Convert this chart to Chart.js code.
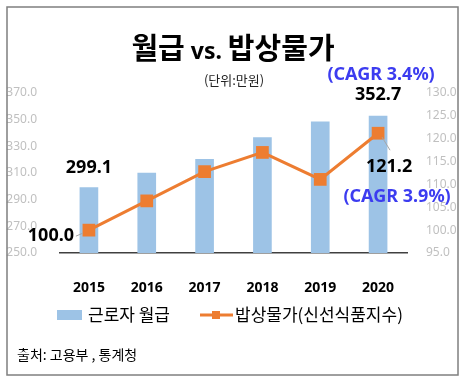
<!DOCTYPE html>
<html>
<head>
<meta charset="utf-8">
<script src="https://cdn.jsdelivr.net/npm/chart.js@4"></script>
<style>
html, body { margin: 0; padding: 0; background: #fff; }
#wrap { width: 465px; height: 381px; }
</style>
</head>
<body>
<div id="wrap"><canvas id="chart" width="465" height="381"></canvas></div>
<script>
const years = ['2015', '2016', '2017', '2018', '2019', '2020'];
const wages = [299.1, 310.0, 320.3, 336.5, 348.3, 352.7];        // 근로자 월급 (만원)
const foodIndex = [100.0, 106.4, 112.8, 117.0, 111.1, 121.2];    // 밥상물가 (신선식품지수)
const wageCagr = '(CAGR 3.4%)';
const foodCagr = '(CAGR 3.9%)';

const KR = '"Noto Sans CJK KR", "Noto Sans", sans-serif';
const NUM = '"Noto Sans", "Noto Sans CJK KR", sans-serif';
const BLUE_BAR = '#9dc3e6';
const ORANGE = '#ed7d31';
const CAGR_BLUE = '#3c3cf0';

// draws titles, value labels, legend and source on top of the chart
const decorPlugin = {
    id: 'decor',
    afterDraw: (chart) => {
        const ctx = chart.ctx;
        const bars = chart.getDatasetMeta(1).data;
        const pts = chart.getDatasetMeta(0).data;
        ctx.save();

        // frame
        ctx.strokeStyle = '#7f7f7f';
        ctx.lineWidth = 1.5;
        ctx.strokeRect(7, 7, 451, 368);

        // title, built from three pieces
        const parts = [
            { t: '월급', f: `bold 29px ${KR}` },
            { t: ' vs. ', f: `bold 23px ${NUM}` },
            { t: '밥상물가', f: `bold 29px ${KR}` }
        ];
        let total = 0;
        parts.forEach(p => { ctx.font = p.f; p.w = ctx.measureText(p.t).width; total += p.w; });
        let x = 233 - total / 2;
        ctx.fillStyle = '#000';
        ctx.textBaseline = 'alphabetic';
        ctx.textAlign = 'left';
        parts.forEach(p => { ctx.font = p.f; ctx.fillText(p.t, x, 59); x += p.w; });

        ctx.textAlign = 'center';
        ctx.textBaseline = 'middle';
        ctx.font = `13px ${KR}`;
        ctx.fillStyle = '#222';
        ctx.fillText('(단위:만원)', 234, 80);

        // value labels
        ctx.fillStyle = '#000';
        ctx.font = `bold 18px ${NUM}`;
        ctx.fillText(wages[0].toFixed(1), bars[0].x, bars[0].y - 20);
        ctx.fillText(wages[5].toFixed(1), bars[5].x, bars[5].y - 21);
        ctx.fillText(foodIndex[0].toFixed(1), pts[0].x - 38, pts[0].y + 6);
        ctx.fillText(foodIndex[5].toFixed(1), pts[5].x + 11, pts[5].y + 34);

        // leader lines
        ctx.strokeStyle = '#a6a6a6';
        ctx.lineWidth = 1;
        ctx.beginPath();
        ctx.moveTo(pts[0].x - 13, pts[0].y + 6);
        ctx.lineTo(pts[0].x - 6, pts[0].y + 3);
        ctx.moveTo(pts[5].x + 4, pts[5].y + 4);
        ctx.lineTo(pts[5].x + 12, pts[5].y + 17);
        ctx.stroke();

        ctx.fillStyle = CAGR_BLUE;
        ctx.fillText(wageCagr, bars[5].x + 3, 75);
        ctx.fillText(foodCagr, pts[5].x + 19, 197);

        // legend
        ctx.fillStyle = BLUE_BAR;
        ctx.fillRect(57, 310, 25, 10);
        ctx.strokeStyle = ORANGE;
        ctx.lineWidth = 3;
        ctx.beginPath();
        ctx.moveTo(200, 315);
        ctx.lineTo(233, 315);
        ctx.stroke();
        ctx.fillStyle = ORANGE;
        ctx.fillRect(212, 311, 8, 8);

        ctx.fillStyle = '#000';
        ctx.textAlign = 'left';
        ctx.font = `17px ${KR}`;
        ctx.fillText('근로자 월급', 88, 315);
        ctx.fillText('밥상물가(신선식품지수)', 235, 315);

        ctx.font = `14px ${KR}`;
        ctx.fillText('출처: 고용부 , 통계청', 17, 355);
        ctx.restore();
    }
};

new Chart(document.getElementById('chart'), {
    data: {
        labels: years,
        datasets: [
            {
                type: 'line',
                label: '밥상물가(신선식품지수)',
                data: foodIndex,
                yAxisID: 'y1',
                borderColor: ORANGE,
                backgroundColor: ORANGE,
                borderWidth: 3,
                pointStyle: 'rect',
                pointRadius: 9,
                pointBackgroundColor: ORANGE,
                pointBorderWidth: 0,
                order: 0
            },
            {
                type: 'bar',
                label: '근로자 월급',
                data: wages,
                yAxisID: 'y',
                backgroundColor: BLUE_BAR,
                barThickness: 18,
                order: 1
            }
        ]
    },
    options: {
        responsive: false,
        animation: false,
        layout: { padding: { top: 93, left: 0, right: 0, bottom: 0 } },
        plugins: {
            legend: { display: false },
            tooltip: { enabled: false }
        },
        scales: {
            x: {
                grid: { display: false },
                border: { display: true, color: '#404040', width: 1.5 },
                ticks: { color: '#000', padding: 19, font: { family: NUM, size: 14, weight: 'bold' } },
                afterFit: (s) => { s.height = 128; }
            },
            y: {
                position: 'left',
                min: 250, max: 370,
                grid: { display: false },
                border: { display: false },
                ticks: {
                    stepSize: 20, padding: 15, color: '#c0c0c0',
                    font: { family: NUM, size: 12 },
                    callback: v => v.toFixed(1)
                },
                afterFit: (s) => { s.width = 60; }
            },
            y1: {
                position: 'right',
                min: 95, max: 130,
                grid: { display: false },
                border: { display: false },
                ticks: {
                    stepSize: 5, padding: 11, color: '#c0c0c0',
                    font: { family: NUM, size: 12 },
                    callback: v => v.toFixed(1)
                },
                afterFit: (s) => { s.width = 58; }
            }
        }
    },
    plugins: [decorPlugin]
});
</script>
</body>
</html>
